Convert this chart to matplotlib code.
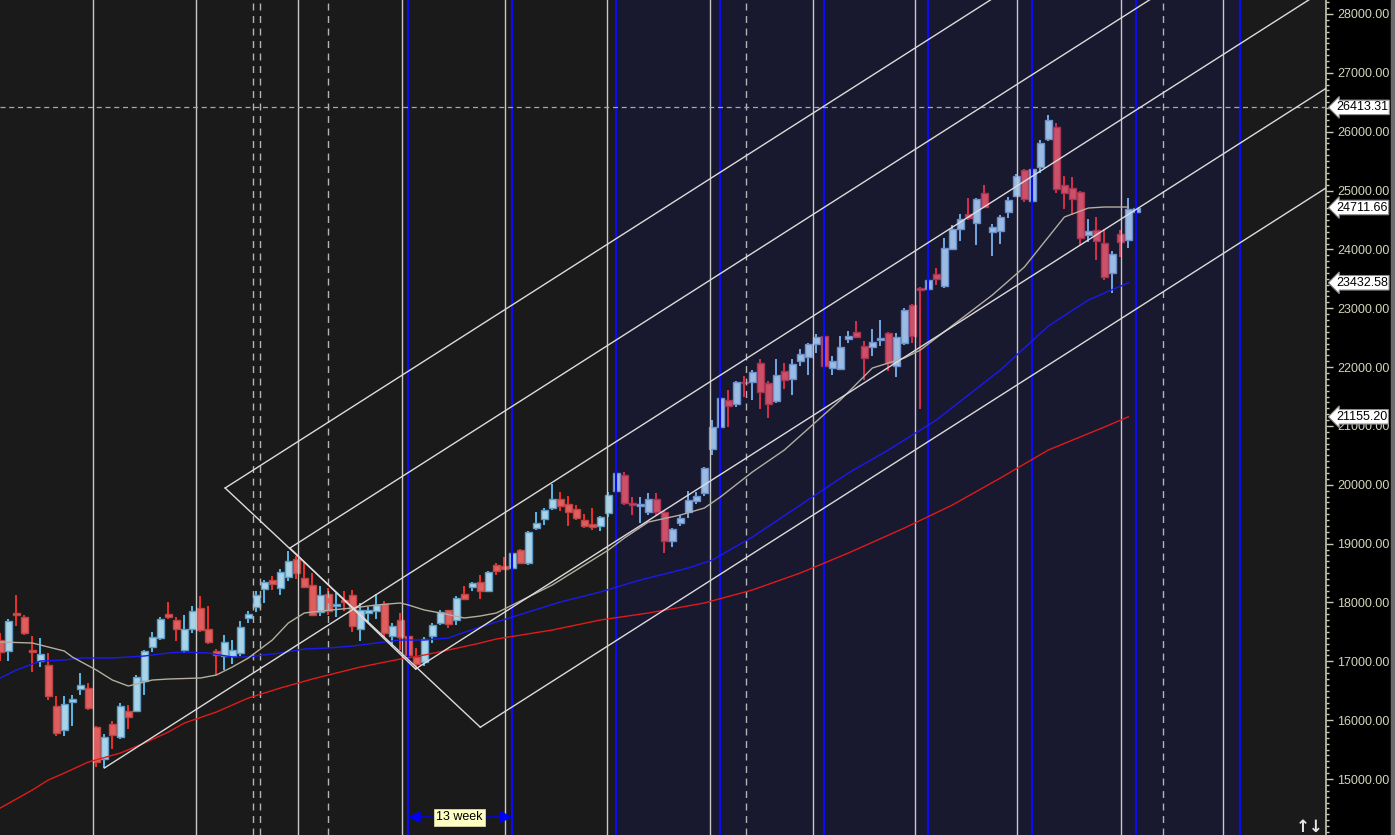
import numpy as np
import matplotlib.pyplot as plt
from matplotlib.patches import Rectangle
from matplotlib.ticker import MultipleLocator, FormatStrFormatter
import matplotlib.transforms as mtransforms

plt.rcParams['font.family'] = ['Liberation Sans', 'DejaVu Sans']

# weekly candles, index 0 = left edge of the view
opens = [17360, 17175, 17826, 17753, 17192, 17005, 16937, 16240, 15832, 16308,
         16529, 16546, 15883, 15340, 15934, 15713, 16155, 16155, 16665, 17243,
         17396, 17804, 17702, 17192, 17549, 17906, 17549, 17175, 17090, 17090,
         17141, 17736, 17923, 18229, 18382, 18246, 18433, 18738, 18416, 18297,
         17838, 18144, 17940, 18042, 18127, 17549, 17821, 17855, 17974, 17430,
         17702, 17430, 17073, 16988, 17430, 17651, 17872, 17702, 18144, 18263,
         18348, 18195, 18636, 18619, 18586, 18891, 18670, 19265, 19418, 19605,
         19758, 19673, 19588, 19401, 19333, 19299, 19520, 19894, 20166, 19690,
         19639, 19537, 19758, 19537, 19044, 19350, 19537, 19724, 19860, 20607,
         20981, 21440, 21372, 21746, 21746, 22069, 21729, 21423, 21933, 21797,
         22103, 22171, 22392, 22528, 21984, 21967, 22477, 22596, 22358, 22341,
         22460, 22579, 22018, 22409, 23055, 23344, 23327, 23582, 23378, 24006,
         24346, 24601, 24448, 24958, 24295, 24312, 24635, 24907, 25349, 24822,
         25400, 25876, 26080, 25094, 25043, 24975, 24244, 24329, 24108, 23599,
         24261, 24159, 24640]
highs = [17480, 17720, 18127, 17787, 17430, 17396, 17141, 16410, 16410, 16427,
         16801, 16631, 15900, 15764, 15985, 16291, 16257, 16767, 17192, 17498,
         17753, 18008, 17753, 17787, 17940, 18110, 17940, 17209, 17447, 17362,
         17685, 17855, 18195, 18382, 18450, 18569, 18874, 18789, 18704, 18501,
         18280, 18246, 18161, 18195, 18212, 17991, 17923, 18144, 18025, 17651,
         17821, 17440, 17226, 17413, 17651, 17872, 17880, 18110, 18280, 18348,
         18467, 18535, 18670, 18772, 18870, 18910, 19214, 19537, 19605, 20013,
         19877, 19809, 19656, 19503, 19605, 19469, 19877, 20217, 20217, 19792,
         19792, 19860, 19860, 19550, 19260, 19486, 19894, 19877, 20302, 21101,
         21508, 21610, 21763, 21848, 21950, 22137, 21763, 22137, 22069, 22137,
         22307, 22409, 22562, 22545, 22188, 22528, 22613, 22783, 22443, 22647,
         22800, 22596, 22579, 23004, 23070, 23361, 23490, 23684, 24193, 24414,
         24601, 24873, 24873, 25094, 24431, 24584, 24890, 25281, 25360, 25451,
         25859, 26284, 26148, 25247, 25230, 24992, 24516, 24550, 24346, 23972,
         24329, 24873, 24760]
lows = [17005, 17005, 17600, 17447, 16818, 16903, 16342, 15730, 15730, 15900,
        16427, 16172, 15204, 15187, 15509, 15679, 15849, 16138, 16427, 17158,
        17362, 17719, 17345, 17141, 17481, 17498, 17294, 16767, 16852, 16954,
        17090, 17651, 17838, 17991, 18212, 18127, 18365, 18399, 18246, 17770,
        17770, 17787, 17753, 17855, 17498, 17345, 17651, 17719, 17413, 17243,
        17192, 17100, 16852, 16920, 17311, 17617, 17566, 17617, 18042, 18195,
        18059, 18178, 18467, 18552, 18570, 18650, 18636, 19231, 19316, 19571,
        19554, 19299, 19401, 19265, 19231, 19214, 19452, 19877, 19656, 19486,
        19350, 19486, 19486, 18840, 18942, 19299, 19435, 19673, 19809, 20506,
        20930, 20981, 21321, 21491, 21440, 21287, 21134, 21389, 21627, 21525,
        22018, 21865, 22239, 21933, 21865, 21950, 22409, 22500, 21780, 22188,
        22358, 21933, 21831, 22375, 22409, 21287, 23208, 23395, 23344, 23989,
        24142, 24499, 24075, 24703, 23888, 24091, 24533, 24890, 24805, 24754,
        25298, 25842, 24958, 24686, 24584, 24075, 24125, 23820, 23480, 23259,
        23871, 24023, 24193]
closes = [17160, 17685, 17792, 17481, 17158, 17124, 16410, 15781, 16274, 16359,
          16597, 16206, 15289, 15713, 15747, 16240, 16053, 16733, 17175, 17413,
          17719, 17753, 17549, 17549, 17855, 17532, 17328, 17107, 17328, 17192,
          17583, 17804, 18127, 18348, 18313, 18518, 18704, 18501, 18263, 17787,
          18127, 17855, 17974, 18008, 17600, 17872, 17872, 17957, 17481, 17600,
          17413, 17107, 16954, 17379, 17617, 17838, 17634, 18076, 18059, 18331,
          18195, 18518, 18535, 18569, 18840, 18670, 19197, 19350, 19571, 19758,
          19639, 19537, 19435, 19299, 19282, 19452, 19826, 20200, 19690, 19656,
          19673, 19758, 19537, 19044, 19248, 19435, 19741, 19809, 20285, 20981,
          21474, 21338, 21746, 21729, 21916, 21576, 21372, 21865, 21780, 22052,
          22222, 22392, 22511, 22018, 22103, 22341, 22528, 22511, 22154, 22426,
          22494, 22069, 22511, 22970, 22528, 23310, 23480, 23497, 24023, 24346,
          24516, 24533, 24856, 24720, 24380, 24550, 24839, 25247, 24856, 25366,
          25808, 26199, 25026, 24958, 24856, 24193, 24312, 24142, 23531, 23922,
          24125, 24686, 24711.66]

# moving averages (week index, value)
ma13_wk = [0, 4, 8, 9, 12, 14, 16, 19, 21, 25, 27, 29, 31, 34, 36, 38, 40, 44, 47,
           50, 51, 53, 55, 58, 60, 62, 69, 76, 78, 81, 85, 88, 90, 94, 98, 105,
           109, 111, 113, 115, 124, 128, 131, 133, 136, 138, 141]
ma13_val = [17328, 17311, 17175, 17073, 16852, 16682, 16580, 16682, 16699, 16716,
            16767, 16903, 17056, 17362, 17651, 17821, 17855, 17906, 17957, 17991,
            17957, 17872, 17821, 17736, 17770, 17821, 18297, 18891, 19095, 19367,
            19486, 19605, 19792, 20217, 20591, 21440, 21984, 22069, 22154, 22290,
            23225, 23700, 24210, 24550, 24703, 24720, 24720]
ma50_wk = [0, 2, 5, 8, 10, 14, 18, 21, 23, 26, 29, 31, 35, 38, 41, 44, 48, 50, 53,
           56, 57, 60, 62, 70, 75, 80, 86, 89, 94, 100, 106, 111, 115, 117, 125,
           131, 136, 138, 141]
ma50_val = [16716, 16852, 17005, 17022, 17056, 17056, 17090, 17141, 17158, 17141,
            17073, 17073, 17141, 17209, 17226, 17260, 17328, 17362, 17362, 17396,
            17447, 17583, 17668, 18008, 18178, 18382, 18586, 18722, 19112, 19656,
            20200, 20591, 20931, 21101, 21950, 22698, 23140, 23259, 23432.58]
ma100_wk = [0, 4, 6, 8, 11, 15, 18, 21, 23, 27, 31, 35, 39, 42, 45, 50, 53, 56, 60,
            62, 69, 75, 81, 88, 94, 100, 106, 113, 119, 125, 131, 138, 141]
ma100_val = [14507, 14813, 14983, 15101, 15288, 15441, 15611, 15798, 15951, 16138,
             16376, 16546, 16699, 16801, 16903, 17039, 17107, 17192, 17311, 17379,
             17532, 17702, 17821, 17991, 18212, 18501, 18840, 19265, 19656, 20115,
             20591, 20981, 21155.20]

# drawing tools: channel anchors (week, price) and slope in points per week
channel_slope = 86.7
rect_top = [(28.1, 19945), (36.2, 18925)]
rect_bottom = [(60.0, 15880), (51.9, 16870)]
ray_start = (13, 15187)

# cycle / calendar markers (week positions)
quarter_lines = [11.63, 24.52, 37.26, 50.16, 63.03, 75.77, 88.66, 101.53, 114.3,
                 127.12, 140.05, 152.81]
dashed_lines = [31.55, 32.46, 41.0, 93.15, 145.38]
cycle_lines = [51, 64, 77, 90, 103, 116, 129, 142, 155]
high_mark = 26413.31
price_tags = [26413.31, 24711.66, 23432.58, 21155.20]

W, H = 1395, 835
fig = plt.figure(figsize=(W / 100, H / 100), dpi=100, facecolor='black')
ax = fig.add_axes([0, 0, 1326 / W, 1])
ax.set_facecolor('#1a1a1a')
fig.patches.append(Rectangle((1391 / W, 0), 4 / W, 1, transform=fig.transFigure,
                             color='#6c6c6c'))

xmax = 165.7
ax.set_xlim(-0.04, xmax)
ax.set_ylim(14048.4, 28237.9)

# highlighted cycle window
ax.axvspan(cycle_lines[2], cycle_lines[-1], color='#18182f', zorder=0, lw=0)

idx = np.arange(len(closes))
o = np.array(opens, float)
c = np.array(closes, float)
hi = np.array(highs, float)
lo = np.array(lows, float)
up = c >= o
inside = (idx >= cycle_lines[2]) & (idx <= cycle_lines[-1])

body_up = np.where(inside, '#9bbbe2', '#a9d3e7')
edge_up = np.where(inside, '#6c90cc', '#5e9bc6')
wick_up = np.where(inside, '#79b4f2', '#5cc6f6')
body_dn = np.where(inside, '#cc5068', '#e05e5e')
edge_dn = np.where(inside, '#a83452', '#c04444')
wick_dn = np.where(inside, '#e8304c', '#ff3030')

ax.vlines(idx, lo, hi, colors=np.where(up, wick_up, wick_dn), lw=1.3, zorder=2)
bottom = np.minimum(o, c)
height = np.maximum(np.abs(c - o), 25)
ax.bar(idx, height, bottom=bottom, width=0.82,
       color=np.where(up, body_up, body_dn),
       edgecolor=np.where(up, edge_up, edge_dn), linewidth=1, zorder=2)

# vertical markers
for x in quarter_lines:
    ax.axvline(x, color='#c8c8c8', lw=1, zorder=3)
for x in dashed_lines:
    ax.axvline(x, color='#b4b4b4', lw=1, ls=(0, (5, 4)), zorder=3)
for x in cycle_lines:
    ax.axvline(x, color='#0c0cf0', lw=1.6, zorder=3)

ax.axhline(high_mark, color='#a8a8a8', lw=0.9, ls=(0, (4, 3)), zorder=3)

# moving averages
ax.plot(ma100_wk, ma100_val, color='#e01a1a', lw=1, zorder=4)
ax.plot(ma50_wk, ma50_val, color='#1a1af0', lw=1, zorder=4)
ax.plot(ma13_wk, ma13_val, color='#b3ae9e', lw=1, zorder=4)

# channels
line_kw = dict(color='#dcdcdc', lw=1, zorder=5)
for (x0, y0), (x1, y1) in zip(rect_top, rect_bottom):
    ax.plot([x0, x1], [y0, y1], **line_kw)
for x0, y0 in rect_top + rect_bottom + [ray_start]:
    ax.plot([x0, xmax], [y0, y0 + channel_slope * (xmax - x0)], **line_kw)

# 13 week measure
y_meas = 14354
ax.annotate('', xy=(cycle_lines[0], y_meas), xytext=(cycle_lines[1], y_meas),
            arrowprops=dict(arrowstyle='<|-|>', color='#0000ff', lw=1,
                            mutation_scale=18, shrinkA=0, shrinkB=0), zorder=6)
ax.text((cycle_lines[0] + cycle_lines[1]) / 2 - 0.1, y_meas, '13 week', fontsize=9,
        ha='center', va='center', color='black', zorder=7,
        bbox=dict(boxstyle='square,pad=0.2', fc='#ffffc4', ec='#d8d8a8', lw=0.6))

# right price axis
for s in ['left', 'top', 'bottom']:
    ax.spines[s].set_visible(False)
ax.spines['right'].set_color('#c8c8b4')
ax.spines['right'].set_linewidth(1.2)
ax.yaxis.tick_right()
ax.yaxis.set_major_locator(MultipleLocator(1000))
ax.yaxis.set_minor_locator(MultipleLocator(100))
ax.yaxis.set_major_formatter(FormatStrFormatter('%.2f'))
ax.tick_params(axis='y', which='major', length=5, width=1, color='#c8c8b4',
               labelcolor='#d4d4bc', labelsize=9, pad=3)
ax.tick_params(axis='y', which='minor', length=2.5, width=1, color='#c8c8b4')
ax.tick_params(axis='x', bottom=False, labelbottom=False)

trans = mtransforms.blended_transform_factory(ax.transAxes, ax.transData)
for v in price_tags:
    ax.text(1.0075, v, f'{v:.2f}', transform=trans, fontsize=9, color='black',
            ha='left', va='center', zorder=10, clip_on=False,
            bbox=dict(boxstyle='larrow,pad=0.1', fc='white', ec='#8c8c8c', lw=0.8))

fig.text(1296 / W, 8 / H, '↑↓', color='#e8e8e8', fontsize=12, fontweight='bold',
         ha='left', va='center', family='DejaVu Sans')

fig.savefig('out.png', dpi=100, facecolor=fig.get_facecolor())
